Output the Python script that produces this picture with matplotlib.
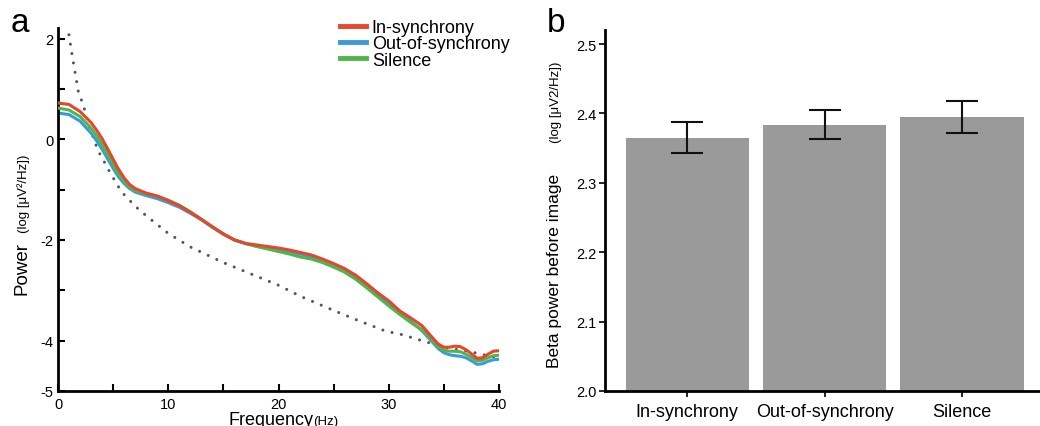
import matplotlib
matplotlib.use("Agg")
import matplotlib.pyplot as plt

plt.rcParams['font.family'] = ['Liberation Sans', 'DejaVu Sans']

# panel a: power spectra (denser where the curves bend)
freqs = [0, 1, 2, 3, 3.5, 4, 4.5, 5, 5.5, 6, 6.5, 7, 8, 9, 10, 11, 12, 13, 14, 15,
         16, 17, 18, 19, 20, 21, 22, 23, 24, 25, 26, 27, 28, 29, 30, 31, 32, 33, 34,
         34.5, 35, 35.5, 36, 36.5, 37, 37.5, 38, 38.5, 39, 39.5, 40]
pow_in_sync = [0.72, 0.69, 0.55, 0.33, 0.18, 0.01, -0.19, -0.40, -0.60, -0.77, -0.90,
               -0.98, -1.07, -1.13, -1.22, -1.32, -1.45, -1.59, -1.74, -1.88,
               -2.00, -2.07, -2.10, -2.13, -2.16, -2.20, -2.25, -2.30, -2.38, -2.47,
               -2.57, -2.70, -2.87, -3.05, -3.21, -3.41, -3.55, -3.70, -3.95,
               -4.07, -4.13, -4.13, -4.11, -4.12, -4.18, -4.26, -4.35, -4.34, -4.27,
               -4.21, -4.20]
pow_out_sync = [0.52, 0.49, 0.36, 0.12, -0.03, -0.20, -0.39, -0.58, -0.75, -0.88, -0.98,
                -1.05, -1.12, -1.18, -1.26, -1.35, -1.47, -1.60, -1.75, -1.89,
                -2.00, -2.07, -2.12, -2.15, -2.20, -2.24, -2.28, -2.34, -2.40, -2.48,
                -2.58, -2.73, -2.90, -3.08, -3.26, -3.44, -3.62, -3.80, -4.04,
                -4.16, -4.24, -4.28, -4.30, -4.31, -4.34, -4.40, -4.47, -4.46, -4.41,
                -4.38, -4.37]
pow_silence = [0.62, 0.58, 0.45, 0.22, 0.07, -0.10, -0.30, -0.50, -0.68, -0.83, -0.95,
               -1.02, -1.08, -1.13, -1.21, -1.31, -1.44, -1.59, -1.74, -1.88,
               -2.00, -2.07, -2.13, -2.18, -2.23, -2.28, -2.34, -2.38, -2.45, -2.54,
               -2.64, -2.78, -2.95, -3.13, -3.31, -3.48, -3.64, -3.78, -4.00,
               -4.12, -4.19, -4.21, -4.21, -4.22, -4.27, -4.33, -4.40, -4.39, -4.34,
               -4.30, -4.29]

# dotted 1/f fit
fit_freqs = [0.8, 0.94, 1.24, 1.54, 1.84, 2.15, 2.39, 2.69, 3.0, 3.3, 3.5, 3.81, 4.2,
             4.5, 4.87, 5.23, 5.62, 6.0, 7, 8, 10, 12, 15, 20, 22, 25, 27, 29.7, 31.2,
             33.3, 35.4, 37.4, 39.6, 40]
fit_pow = [2.45, 2.15, 1.72, 1.33, 0.95, 0.76, 0.60, 0.35, 0.15, -0.03, -0.15, -0.30,
           -0.45, -0.58, -0.71, -0.86, -0.99, -1.10, -1.33, -1.52, -1.87, -2.14, -2.45,
           -2.90, -3.12, -3.40, -3.58, -3.81, -3.88, -4.02, -4.15, -4.22, -4.33, -4.35]

# panel b: beta power bars
conditions = ["In-synchrony", "Out-of-synchrony", "Silence"]
beta_power = [2.365, 2.384, 2.395]
beta_err = [0.022, 0.021, 0.023]

line_colors = ["#e6462b", "#3a9bd8", "#4fb649"]
line_labels = ["In-synchrony", "Out-of-synchrony", "Silence"]

fig = plt.figure(figsize=(10.4, 4.27), dpi=100)

# ---- panel a
ax = fig.add_axes([0.0558, 0.082, 0.424, 0.849])
ax.plot(fit_freqs, fit_pow, color="#555555", linewidth=2.2,
        dashes=(0.01, 3.1), dash_capstyle="round", zorder=1)
zs = [4, 2, 3]
for vals, cs, ls, z in zip([pow_in_sync, pow_out_sync, pow_silence], line_colors, line_labels, zs):
    ax.plot(freqs, vals, color=cs, label=ls, linewidth=2.2, zorder=z)

ax.set_xlim(0, 40)
ax.set_ylim(-5, 2.2)
ax.set_xticks(range(0, 41, 5))
ax.set_xticklabels(["0", "", "10", "", "20", "", "30", "", "40"])
ax.set_yticks(range(-5, 3))
ax.set_yticklabels(["-5", "-4", "", "-2", "", "0", "", "2"])
ax.tick_params(direction="in", length=5, width=1.5, labelsize=10.5, pad=3)
ax.tick_params(axis="x", pad=4)
for side in ["top", "right"]:
    ax.spines[side].set_visible(False)
for side in ["left", "bottom"]:
    ax.spines[side].set_linewidth(2)

leg = ax.legend(loc="upper left", bbox_to_anchor=(0.64, 1.025), frameon=False,
                fontsize=13, handlelength=1.45, handletextpad=0.3,
                labelspacing=-0.05, borderpad=0, borderaxespad=0)
for h in leg.get_lines():
    h.set_linewidth(3.5)

# ---- panel b
bx = fig.add_axes([0.5817, 0.082, 0.4183, 0.845])
pos = list(range(len(conditions)))
bx.bar(pos, beta_power, width=0.9, color="#9a9a9a", zorder=1)
bx.errorbar(pos, beta_power, yerr=beta_err, fmt="none", ecolor="#111111",
            elinewidth=1.5, capsize=11.5, capthick=1.5, zorder=2)
bx.set_xlim(-0.6, 2.57)
bx.set_ylim(2.0, 2.52)
bx.set_yticks([2.0, 2.1, 2.2, 2.3, 2.4, 2.5])
bx.set_yticklabels(["2.0", "2.1", "2.2", "2.3", "2.4", "2.5"])
bx.set_xticks(pos)
bx.set_xticklabels(conditions, fontsize=13)
bx.tick_params(axis="y", direction="out", length=4, width=1.2, labelsize=10.5, pad=2)
bx.tick_params(axis="x", direction="out", length=4, width=1.2, pad=5)
for side in ["top", "right"]:
    bx.spines[side].set_visible(False)
for side in ["left", "bottom"]:
    bx.spines[side].set_linewidth(2)

# ---- axis labels with a small unit part
W, H = 1040.0, 427.0
fig.text(27 / W, 1 - 295 / H, "Power", fontsize=13.5, rotation=90,
         rotation_mode="anchor", ha="left", va="baseline")
fig.text(27 / W, 1 - 233 / H, "(log [μV²/Hz])", fontsize=9.5, rotation=90,
         rotation_mode="anchor", ha="left", va="baseline")
fig.text(228 / W, 1 - 425 / H, "Frequency", fontsize=13, ha="left", va="baseline")
fig.text(313 / W, 1 - 425 / H, "(Hz)", fontsize=9.5, ha="left", va="baseline")

fig.text(559 / W, 1 - 368 / H, "Beta power before image", fontsize=12.5, rotation=90,
         rotation_mode="anchor", ha="left", va="baseline")
fig.text(559 / W, 1 - 143 / H, "(log [μV2/Hz])", fontsize=9.5, rotation=90,
         rotation_mode="anchor", ha="left", va="baseline")

# panel letters
fig.text(11 / W, 1 - 32 / H, "a", fontsize=24, ha="left", va="baseline")
fig.text(547 / W, 1 - 32 / H, "b", fontsize=24, ha="left", va="baseline")

fig.savefig("out.png", dpi=100)
